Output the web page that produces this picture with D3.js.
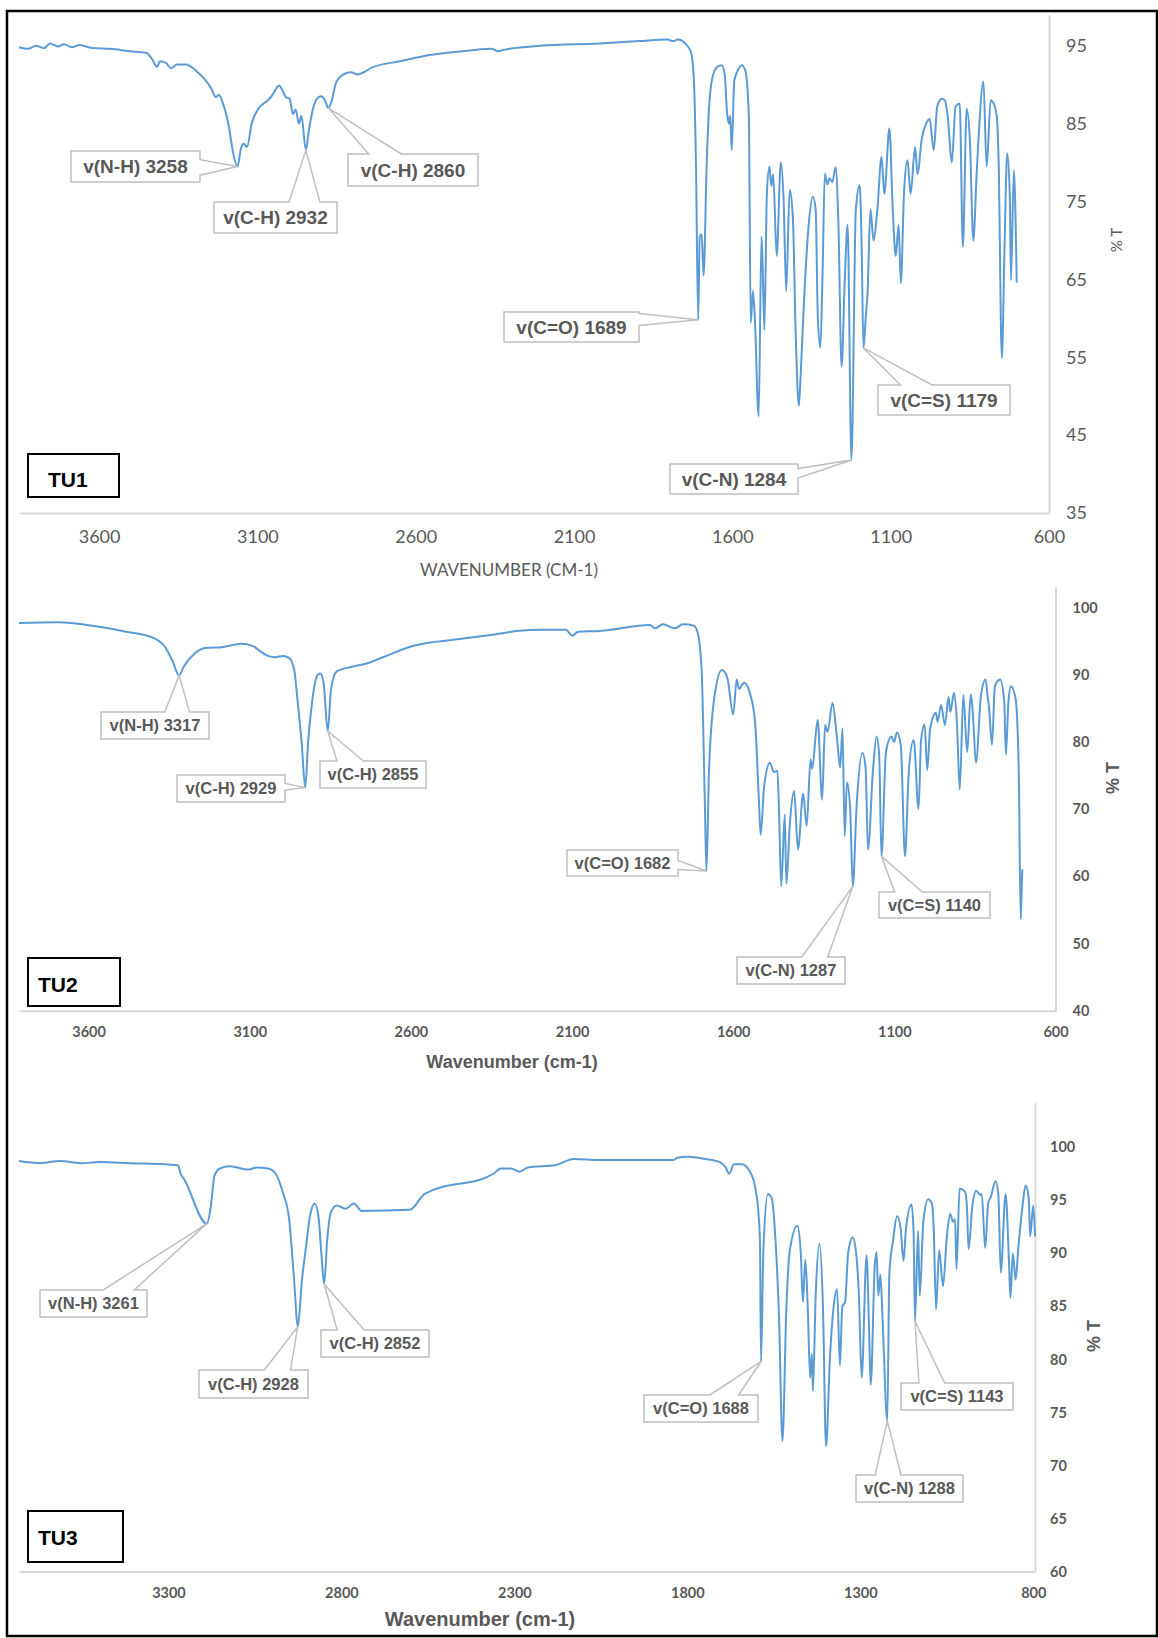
<!DOCTYPE html>
<html lang="en">
<head>
<meta charset="UTF-8">
<title>FT-IR spectra TU1, TU2, TU3</title>
<script src="https://d3js.org/d3.v7.min.js"></script>
<style>
  body { margin: 0; background: #fff; }
  path.spectrum { fill: none; stroke: #5b9bd5; stroke-width: 2; stroke-linejoin: round; }
  .axis path.domain { stroke: #d9d9d9; stroke-width: 2; }
  .axis text { fill: #595959; }
  path.callout { fill: #fff; stroke: #bfbfbf; stroke-width: 1.5; }
  text.callout { fill: #595959; font-family: "Liberation Sans", Arial, sans-serif; font-weight: bold; }
  rect.tag { fill: #fff; stroke: #000; stroke-width: 2; }
  text.tag { font-family: "Liberation Sans", Arial, sans-serif; font-weight: bold; font-size: 21px; fill: #000; }
</style>
</head>
<body>
<svg width="1158" height="1638"></svg>

<script>
// ---------- data (wavenumber cm-1, %T) ----------
const tu1Wn = [3853,3825,3800,3774,3755,3730,3711,3686,3661,3623,3566,3503,3452,3433,3417,3408,3389,3373,3354,3326,
  3294,3269,3247,3231,3222,3209,3190,3178,3163,3152,3143,3133,3118,3099,3083,3067,3054,3042,3032,3020,
  3010,2998,2988,2979,2969,2961,2947,2938,2925,2912,2900,2887,2876,2865,2852,2830,2805,2783,2764,2739,
  2650,2556,2429,2360,2341,2319,2208,2019,1893,1804,1788,1772,1747,1731,1722,1715,1708,1703,1697,1691,
  1681,1672,1659,1643,1634,1624,1617,1611,1607,1602,1594,1583,1570,1558,1548,1542,1535,1529,1517,1508,
  1504,1499,1491,1483,1477,1471,1460,1447,1438,1430,1419,1409,1400,1390,1384,1374,1359,1346,1337,1330,
  1322,1315,1308,1300,1293,1284,1274,1265,1255,1245,1236,1224,1210,1198,1192,1186,1179,1173,1164,1154,
  1142,1129,1120,1104,1094,1084,1075,1068,1058,1047,1037,1023,1015,1002,988,977,964,953,939,929,
  920,907,895,882,872,860,850,839,828,807,797,784,774,765,759,749,740,732,724,720,711,702];
const tu1T = [94.8,94.6,95.0,94.7,95.3,94.9,95.2,94.8,95.1,94.7,94.6,94.3,94.1,93.3,92.3,93.0,92.8,92.1,92.6,92.6,
  91.8,90.8,89.6,88.4,88.7,87.6,84.6,81.5,79.5,81.8,82.4,82.0,85.0,86.8,87.5,88.0,88.6,89.4,89.9,89.2,
  88.4,88.2,86.2,86.8,85.0,86.0,81.6,84.0,86.8,88.2,88.5,88.0,87.0,88.0,90.2,91.3,91.6,91.3,91.6,92.2,
  93.0,93.8,94.4,94.6,94.3,94.5,95.0,95.3,95.6,95.8,95.6,95.8,95.2,94.2,91.0,80.0,59.8,70.5,70.8,65.5,
  80.0,88.0,91.5,92.4,92.5,91.3,86.5,85.0,86.0,81.6,90.5,91.8,92.5,91.6,86.0,59.4,63.5,60.0,47.4,70.5,
  66.0,58.5,76.0,79.5,77.0,78.5,68.0,80.0,75.0,63.5,76.5,73.0,58.0,48.8,53.0,62.0,72.0,75.6,74.0,60.0,
  56.2,66.0,78.6,77.2,78.0,77.5,79.4,72.0,53.8,65.0,72.0,41.8,74.0,77.1,70.0,56.2,60.0,63.3,74.0,70.0,
  74.0,80.7,76.0,84.4,74.5,68.0,72.0,64.5,76.0,80.3,76.0,82.0,78.5,83.0,85.0,85.6,81.6,87.2,88.2,88.0,
  86.0,80.0,87.2,87.6,69.2,86.9,83.0,70.0,79.0,90.4,79.5,88.0,87.5,86.0,80.0,54.9,70.0,81.2,76.0,64.9,79.0,64.6];

const tu2Wn = [3816,3696,3578,3484,3400,3364,3341,3319,3305,3270,3233,3186,3127,3091,3068,3043,3020,2997,2978,2962,
  2951,2939,2928,2919,2907,2889,2881,2871,2858,2848,2830,2782,2735,2687,2592,2450,2354,2272,2189,2119,
  2100,2081,2013,1858,1843,1818,1781,1756,1722,1710,1698,1688,1683,1675,1658,1635,1618,1600,1589,1582,
  1566,1548,1532,1520,1515,1504,1486,1474,1463,1458,1451,1440,1435,1424,1411,1399,1383,1372,1360,1355,
  1338,1324,1315,1307,1292,1280,1275,1268,1261,1254,1247,1237,1229,1217,1199,1189,1182,1166,1155,1147,
  1140,1126,1109,1101,1092,1080,1067,1055,1040,1025,1017,1006,998,989,971,966,955,943,932,926,
  915,906,897,886,874,863,856,847,831,817,811,806,797,788,772,759,754,746,738,724,714,708,705,703];
const tu2T = [97.7,97.8,97.2,96.4,95.5,94.2,92.2,89.9,91.2,93.2,94.0,94.1,94.6,94.3,93.5,92.8,92.6,92.8,92.5,90.7,
  85.8,79.9,73.2,79.9,85.8,90.0,90.2,88.8,81.6,87.8,90.5,91.2,91.7,92.6,94.3,95.3,95.9,96.5,96.7,96.7,
  95.8,96.4,96.5,97.4,96.9,97.5,96.9,97.5,97.3,96.2,90.7,71.0,60.8,75.9,86.8,90.7,89.5,84.1,89.3,87.9,
  88.8,87.2,82.9,71.0,66.2,73.4,76.9,75.5,75.7,70.0,58.5,69.2,58.9,68.0,72.7,64.0,72.3,67.5,77.4,76.0,
  83.3,71.4,82.5,81.5,85.8,81.5,79.0,76.2,82.0,66.0,74.0,70.0,58.5,70.6,78.4,76.0,64.0,76.0,80.8,78.0,
  63.0,78.5,80.8,80.0,81.4,79.5,63.0,75.8,80.3,70.0,80.3,82.6,75.8,82.0,84.3,83.0,85.5,82.5,86.7,84.5,
  87.3,83.0,72.9,87.0,78.5,87.1,84.0,76.9,87.0,89.3,87.0,85.0,79.6,88.3,89.3,86.0,78.1,86.0,88.3,86.5,75.8,53.6,58.0,61.0];

const tu3Wn = [3732,3671,3613,3555,3498,3411,3311,3272,3265,3255,3189,3178,3167,3151,3123,3068,3046,3012,2990,2969,
  2951,2937,2926,2914,2902,2891,2877,2866,2858,2850,2841,2830,2813,2788,2764,2742,2603,2559,2360,2339,
  2310,2285,2261,2183,2128,2053,1839,1830,1796,1749,1706,1689,1679,1665,1642,1621,1605,1594,1590,1587,
  1580,1567,1556,1546,1535,1525,1514,1504,1482,1472,1466,1459,1452,1445,1440,1437,1429,1418,1408,1399,
  1388,1377,1367,1359,1352,1344,1335,1322,1312,1304,1296,1282,1274,1270,1258,1253,1248,1242,1235,1222,
  1216,1205,1194,1184,1175,1168,1152,1146,1142,1133,1128,1118,1104,1093,1088,1081,1072,1061,1050,1040,
  1032,1026,1022,1013,997,992,987,976,965,954,949,939,930,923,909,901,894,880,870,866,
  859,851,843,832,822,813,809,800,795];
const tu3T = [98.7,98.5,98.7,98.5,98.6,98.5,98.4,98.3,97.5,97.0,92.8,94.3,97.3,98.0,98.2,97.9,98.1,98.0,97.5,95.7,
  93.2,87.6,83.1,87.5,90.7,93.5,94.7,93.4,90.0,87.1,91.3,93.9,94.5,94.2,94.7,94.0,94.1,95.6,97.5,98.0,
  98.0,97.7,98.1,98.3,98.9,98.8,98.8,99.0,99.1,98.9,98.6,98.1,97.5,98.4,98.4,97.8,96.4,93.6,91.0,79.8,
  90.5,95.6,95.2,91.7,84.0,72.3,84.6,90.2,92.6,90.0,85.4,89.4,85.0,78.3,80.5,77.0,86.0,90.9,85.0,71.8,
  80.0,85.0,86.6,79.4,85.0,85.4,90.1,91.5,90.0,86.0,78.3,89.8,82.0,77.6,89.0,90.1,86.0,88.0,83.3,74.2,
  88.1,91.3,93.5,92.5,89.3,92.3,94.6,92.0,83.6,92.1,86.0,92.9,95.1,94.7,92.5,84.7,90.3,86.9,91.5,93.7,
  93.0,93.2,88.5,96.1,95.8,94.5,90.4,94.5,95.9,95.5,95.6,90.5,94.8,95.3,96.8,95.6,88.2,95.6,89.0,85.8,
  90.0,87.5,90.6,94.2,96.4,95.2,91.6,94.5,91.6];

// axis extents and ticks
const tu1XDomain = [3853, 600], tu1YDomain = [35, 99];
const tu2XDomain = [3816, 600], tu2YDomain = [40, 103.1];
const tu3XDomain = [3732, 795], tu3YDomain = [60, 104.2];
const tu1XTicks = [3600, 3100, 2600, 2100, 1600, 1100, 600];
const tu2XTicks = [3600, 3100, 2600, 2100, 1600, 1100, 600];
const tu3XTicks = [3300, 2800, 2300, 1800, 1300, 800];
const tu1YTicks = [35, 45, 55, 65, 75, 85, 95];
const tu2YTicks = [40, 50, 60, 70, 80, 90, 100];
const tu3YTicks = [60, 65, 70, 75, 80, 85, 90, 95, 100];

// band labels and the wavenumber (on the plotted axis) each one points at
const tu1Labels = ["v(N-H) 3258", "v(C-H) 2932", "v(C-H) 2860", "v(C=O) 1689", "v(C-N) 1284", "v(C=S) 1179"];
const tu1LabelAt = [3163, 2947, 2876, 1708, 1224, 1186];
const tu2Labels = ["v(N-H) 3317", "v(C-H) 2929", "v(C-H) 2855", "v(C=O) 1682", "v(C-N) 1287", "v(C=S) 1140"];
const tu2LabelAt = [3319, 2928, 2858, 1683, 1229, 1140];
const tu3Labels = ["v(N-H) 3261", "v(C-H) 2928", "v(C-H) 2852", "v(C=O) 1688", "v(C-N) 1288", "v(C=S) 1143"];
const tu3LabelAt = [3189, 2926, 2850, 1587, 1222, 1142];

// ---------- layout ----------
const panels = [
  { tag: "TU1", wn: tu1Wn, t: tu1T, xDomain: tu1XDomain, yDomain: tu1YDomain, xTicks: tu1XTicks, yTicks: tu1YTicks,
    labels: tu1Labels, labelAt: tu1LabelAt,
    left: 19, right: 1049, bottom: 513, top: 14.6,
    tickFont: "normal 18px Lato", xPad: 17, yPad: 17,
    xTitle: { text: "WAVENUMBER (CM-1)", x: 509, y: 576, font: "normal 17px Lato" },
    yTitle: { x: 1117, y: 240, font: "normal 15px Lato" },
    tagBox: [28, 454, 91, 43], tagText: [48, 487],
    calloutFont: 19,
    boxes: [ [71,151,129,31,"right",0.28,0.78], [214,202,123,31,"top",0.61,0.86], [348,154,130,32,"top",0.16,0.41],
             [504,312,135,30,"right",0.05,0.45], [670,464,128,30,"right",0.15,0.47], [878,385,132,30,"top",0.17,0.41] ] },
  { tag: "TU2", wn: tu2Wn, t: tu2T, xDomain: tu2XDomain, yDomain: tu2YDomain, xTicks: tu2XTicks, yTicks: tu2YTicks,
    labels: tu2Labels, labelAt: tu2LabelAt,
    left: 19, right: 1055.5, bottom: 1010.7, top: 586.7,
    tickFont: "bold 14.5px Lato", xPad: 16, yPad: 17,
    xTitle: { text: "Wavenumber (cm-1)", x: 512, y: 1068, font: "bold 18px 'Liberation Sans'" },
    yTitle: { x: 1113, y: 778, font: "bold 18px 'Liberation Sans'" },
    tagBox: [28, 958, 92, 48], tagText: [38, 992],
    calloutFont: 16.5,
    boxes: [ [101,712,108,27,"top",0.59,0.82], [177,775,108,27,"right",0.31,0.56], [320,761,106,27,"top",0.16,0.41],
             [567,850,111,26,"right",0.4,0.75], [737,957,108,27,"top",0.6,0.84], [879,892,111,26,"top",0.14,0.39] ] },
  { tag: "TU3", wn: tu3Wn, t: tu3T, xDomain: tu3XDomain, yDomain: tu3YDomain, xTicks: tu3XTicks, yTicks: tu3YTicks,
    labels: tu3Labels, labelAt: tu3LabelAt,
    left: 19, right: 1035, bottom: 1571.5, top: 1102.7,
    tickFont: "bold 14.5px Lato", xPad: 16, yPad: 15,
    xTitle: { text: "Wavenumber (cm-1)", x: 480, y: 1626, font: "bold 20px 'Liberation Sans'" },
    yTitle: { x: 1094, y: 1336, font: "bold 18px 'Liberation Sans'" },
    tagBox: [28, 1511, 95, 51], tagText: [38, 1545],
    calloutFont: 16.5,
    boxes: [ [40,1290,107,27,"top",0.59,0.88], [199,1370,109,28,"top",0.6,0.84], [321,1330,108,27,"top",0.15,0.4],
             [644,1395,114,27,"top",0.58,0.83], [856,1475,107,27,"top",0.18,0.42], [901,1383,112,27,"top",0.16,0.39] ] }
];

const svg = d3.select("svg");

function calloutPath(b, ax, ay) {
  const [x, y, w, h, side, f0, f1] = b;
  const p = d3.path();
  p.moveTo(x, y);
  if (side === "top") { p.lineTo(x + f0 * w, y); p.lineTo(ax, ay); p.lineTo(x + f1 * w, y); }
  p.lineTo(x + w, y);
  if (side === "right") { p.lineTo(x + w, y + f0 * h); p.lineTo(ax, ay); p.lineTo(x + w, y + f1 * h); }
  p.lineTo(x + w, y + h);
  p.lineTo(x, y + h);
  p.closePath();
  return p.toString();
}

panels.forEach(function(pn) {
  const x = d3.scaleLinear().domain(pn.xDomain).range([pn.left, pn.right]);
  const y = d3.scaleLinear().domain(pn.yDomain).range([pn.bottom, pn.top]);
  const g = svg.append("g");

  g.append("g").attr("class", "axis")
     .attr("transform", `translate(0,${pn.bottom})`)
     .call(d3.axisBottom(x).tickValues(pn.xTicks).tickSize(0).tickPadding(pn.xPad).tickFormat(d3.format("d")))
     .selectAll("text").style("font", pn.tickFont);

  g.append("g").attr("class", "axis")
     .attr("transform", `translate(${pn.right},0)`)
     .call(d3.axisRight(y).tickValues(pn.yTicks).tickSize(0).tickPadding(pn.yPad).tickFormat(d3.format("d")))
     .selectAll("text").style("font", pn.tickFont);

  g.append("text")
     .attr("x", pn.xTitle.x).attr("y", pn.xTitle.y)
     .attr("text-anchor", "middle").style("font", pn.xTitle.font).attr("fill", "#595959")
     .text(pn.xTitle.text);

  g.append("text")
     .attr("transform", `translate(${pn.yTitle.x},${pn.yTitle.y}) rotate(-90)`)
     .attr("text-anchor", "middle").attr("dy", "0.35em")
     .style("font", pn.yTitle.font).attr("fill", "#595959")
     .text("% T");

  const pts = pn.wn.map((w, i) => [w, pn.t[i]]);
  const line = d3.line().x(d => x(d[0])).y(d => y(d[1])).curve(d3.curveMonotoneX);
  g.append("path").attr("class", "spectrum").datum(pts).attr("d", line);

  // callouts
  pn.labels.forEach(function(lab, i) {
    const w = pn.labelAt[i];
    const tv = pn.t[pn.wn.indexOf(w)];
    const b = pn.boxes[i];
    g.append("path").attr("class", "callout").attr("d", calloutPath(b, x(w), y(tv)));
    g.append("text").attr("class", "callout")
       .attr("x", b[0] + b[2] / 2).attr("y", b[1] + b[3] / 2)
       .attr("dy", "0.36em").attr("text-anchor", "middle")
       .style("font-size", pn.calloutFont + "px")
       .text(lab);
  });

  g.append("rect").attr("class", "tag")
     .attr("x", pn.tagBox[0]).attr("y", pn.tagBox[1]).attr("width", pn.tagBox[2]).attr("height", pn.tagBox[3]);
  g.append("text").attr("class", "tag").attr("x", pn.tagText[0]).attr("y", pn.tagText[1]).text(pn.tag);
});

// outer frame
svg.append("rect").attr("x", 7).attr("y", 11).attr("width", 1150).attr("height", 1625)
   .attr("fill", "none").attr("stroke", "#000").attr("stroke-width", 2.5);
</script>
</body>
</html>
